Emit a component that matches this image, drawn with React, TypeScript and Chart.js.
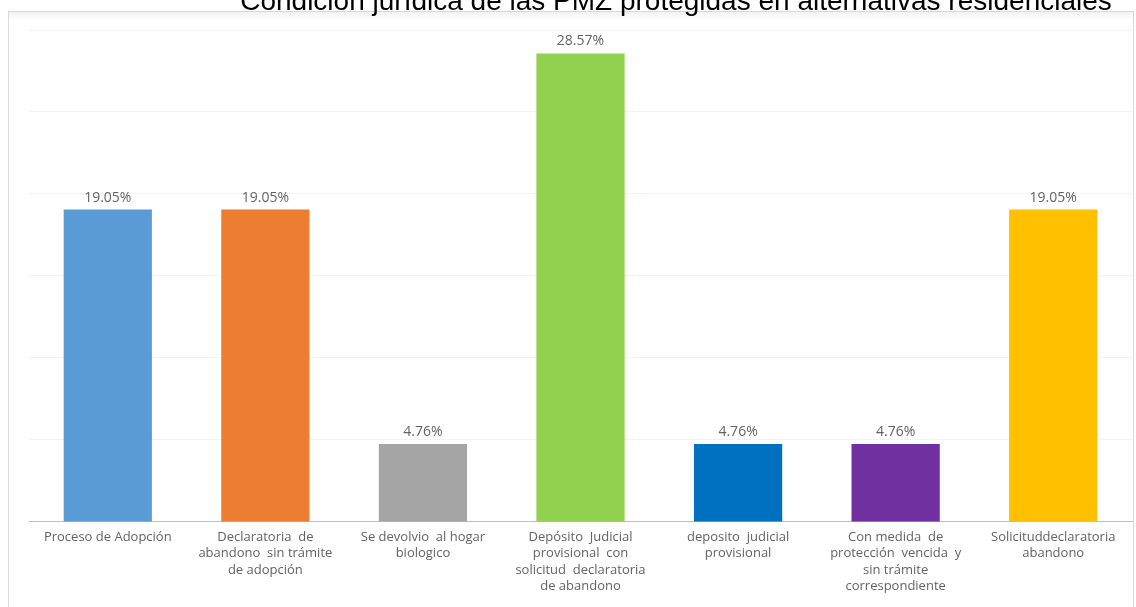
import React, { useEffect, useRef } from "react";
import { Chart, registerables } from "chart.js";

Chart.register(...registerables);

const TITLE = "Condición jurídica de las PMZ protegidas en alternativas residenciales";

const categories: string[][] = [
  ["Proceso de Adopción"],
  ["Declaratoria  de", "abandono  sin trámite", "de adopción"],
  ["Se devolvio  al hogar", "biologico"],
  ["Depósito  Judicial", "provisional  con", "solicitud  declaratoria", "de abandono"],
  ["deposito  judicial", "provisional"],
  ["Con medida  de", "protección  vencida  y", "sin trámite", "correspondiente"],
  ["Solicituddeclaratoria", "abandono"],
];

const values: number[] = [19.05, 19.05, 4.76, 28.57, 4.76, 4.76, 19.05];

const barColors: string[] = ["#5B9BD5", "#ED7D31", "#A5A5A5", "#92D050", "#0070C0", "#7030A0", "#FFC000"];

const yTicks = { min: 0, max: 30, step: 5 };

const framePlugin = {
  id: "frame",
  beforeDraw(chart: any) {
    const ctx = chart.ctx;
    ctx.save();
    ctx.fillStyle = "#ffffff";
    ctx.fillRect(0, 0, chart.width, chart.height);
    const g = ctx.createLinearGradient(0, 11, 0, 20);
    g.addColorStop(0, "rgba(0,0,0,0.06)");
    g.addColorStop(1, "rgba(0,0,0,0)");
    ctx.fillStyle = g;
    ctx.fillRect(9, 12, 1124, 8);
    ctx.strokeStyle = "#d9d9d9";
    ctx.lineWidth = 1;
    ctx.strokeRect(8.5, 11.5, 1125, 620);
    ctx.restore();
  },
};

const titlePlugin = {
  id: "topTitle",
  afterDraw(chart: any) {
    const ctx = chart.ctx;
    ctx.save();
    ctx.fillStyle = "#000000";
    ctx.font = "28px 'Liberation Sans', Arial, sans-serif";
    ctx.textAlign = "center";
    ctx.textBaseline = "alphabetic";
    ctx.fillText(TITLE, 676, 10);
    ctx.restore();
  },
};

const valueLabelPlugin = {
  id: "valueLabels",
  afterDatasetsDraw(chart: any) {
    const ctx = chart.ctx;
    const meta = chart.getDatasetMeta(0);
    ctx.save();
    ctx.fillStyle = "#636363";
    ctx.font = "14px 'Open Sans', sans-serif";
    ctx.textAlign = "center";
    ctx.textBaseline = "middle";
    meta.data.forEach((bar: any, i: number) => {
      ctx.fillText(values[i].toFixed(2) + "%", bar.x, bar.y - 12);
    });
    ctx.restore();
  },
};

export default function App() {
  const ref = useRef<HTMLCanvasElement | null>(null);
  useEffect(() => {
    if (!ref.current) return;
    const chart = new Chart(ref.current, {
      type: "bar",
      data: {
        labels: categories,
        datasets: [
          {
            data: values,
            backgroundColor: barColors,
            borderWidth: 0,
            categoryPercentage: 0.56,
            barPercentage: 1,
          },
        ],
      },
      options: {
        animation: false,
        responsive: false,
        maintainAspectRatio: false,
        layout: { padding: { left: 29, right: 4, top: 30, bottom: 5 } },
        plugins: { legend: { display: false }, tooltip: { enabled: false }, title: { display: false } },
        scales: {
          x: {
            grid: { display: false, drawTicks: false },
            border: { display: true, color: "#bfbfbf", width: 1 },
            ticks: {
              autoSkip: false,
              maxRotation: 0,
              minRotation: 0,
              padding: 7,
              color: "#636363",
              font: { family: "'Open Sans', sans-serif", size: 13, lineHeight: 1.27 },
            },
          },
          y: {
            min: yTicks.min,
            max: yTicks.max,
            ticks: { display: false, stepSize: yTicks.step },
            grid: { color: "#f3f3f3", drawTicks: false },
            border: { display: false },
          },
        },
      },
      plugins: [framePlugin, valueLabelPlugin, titlePlugin],
    });
    return () => chart.destroy();
  }, []);
  return (
    <div style={{ position: "fixed", left: 0, top: 0, width: 1136, height: 607 }}>
      <canvas ref={ref} width={1136} height={607} style={{ width: 1136, height: 607 }} />
    </div>
  );
}
